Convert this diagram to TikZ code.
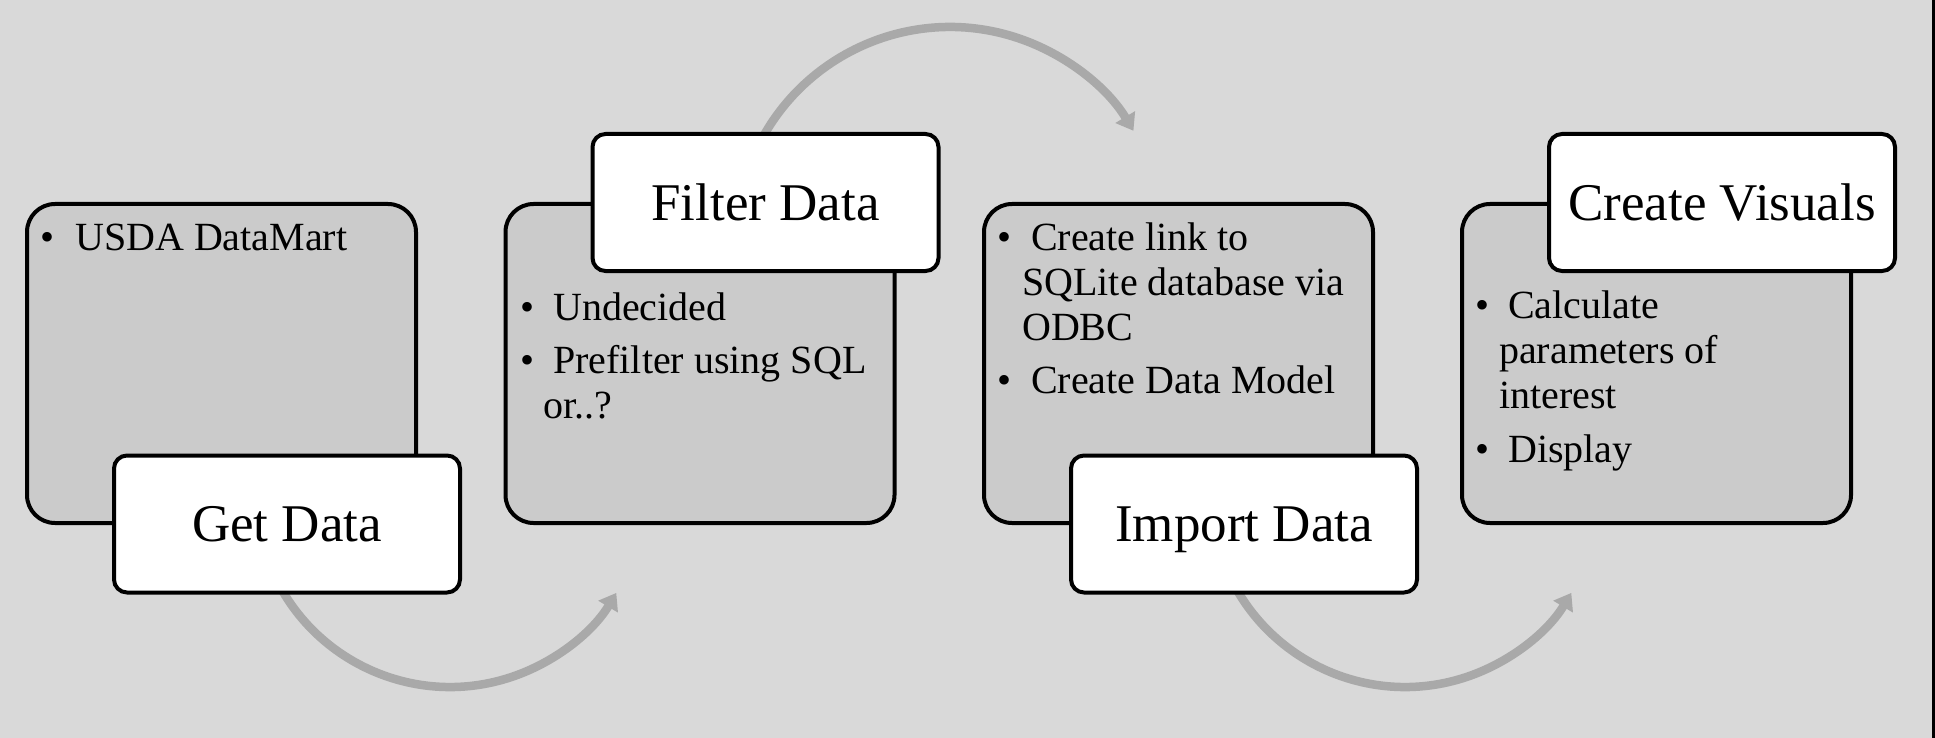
\documentclass[tikz,border=0pt]{standalone}
\usepackage{fontspec}
\setmainfont{Liberation Serif}
\usetikzlibrary{arrows.meta,calc}

\definecolor{pagebg}{HTML}{D9D9D9}
\definecolor{panelfill}{HTML}{CBCBCB}
\definecolor{flowgray}{HTML}{A9A9A9}

\tikzset{
  panel/.style={draw=black, line width=4pt, fill=panelfill, rounded corners=28pt,
    minimum width=389pt, minimum height=319pt, inner sep=0pt},
  stagebox/.style={draw=black, line width=4pt, fill=white, rounded corners=13pt,
    minimum width=346pt, minimum height=137pt, inner sep=0pt,
    text height=35pt, text depth=0pt, font=\fontsize{53}{60}\selectfont},
  itemline/.style={anchor=base west, inner sep=0pt, font=\fontsize{40}{45}\selectfont},
  bul/.style={anchor=base, inner sep=0pt, font=\fontsize{40}{45}\selectfont},
  flow/.style={draw=flowgray, line width=8.5pt,
    -{Triangle[length=16pt,width=22pt]}},
}

\begin{document}
\begin{tikzpicture}[x=1pt,y=1pt]
  % page
  \useasboundingbox (0,0) rectangle (1935,-738);
  \fill[pagebg] (0,0) rectangle (1935,-738);
  \fill[black] (1932,0) rectangle (1935,-738);

  % centres of the curved flow arrows
  \coordinate (c1) at (450,-493);
  \coordinate (c2) at (950,-241);
  \coordinate (c3) at (1405,-493);
  \coordinate (s1) at ($(c1)+(200:194)$);
  \coordinate (s2) at ($(c2)+(160:214)$);
  \coordinate (s3) at ($(c3)+(200:194)$);

  % flow arrows, drawn beneath the boxes
  \draw[flow] (s1) arc[start angle=200, end angle=329, radius=194pt];
  \draw[flow] (s2) arc[start angle=160, end angle=31, radius=214pt];
  \draw[flow] (s3) arc[start angle=200, end angle=329, radius=194pt];

  % content panels
  \node[panel] (p1) at (221.5,-363.5) {};
  \node[panel] (p2) at (700,-363.5) {};
  \node[panel] (p3) at (1178.5,-363.5) {};
  \node[panel] (p4) at (1656.5,-363.5) {};

  % stage titles
  \node[stagebox] (getdata)    at (287,-524)    {Get Data};
  \node[stagebox] (filterdata) at (765.5,-202.5)  {Filter Data};
  \node[stagebox] (importdata) at (1244,-524)   {Import Data};
  \node[stagebox] (visuals)    at (1722,-202.5) {Create Visuals};

  % panel 1
  \node[bul] (b11) at (48,-250) {•};
  \node[itemline] (t11) at (75,-250) {USDA DataMart};

  % panel 2
  \node[bul] (b21) at (527,-320) {•};
  \node[itemline] (t21) at (553,-320) {Undecided};
  \node[bul] (b22) at (527,-373) {•};
  \node[itemline] (t22) at (553,-373) {Prefilter using SQL};
  \node[itemline] (t23) at (543,-418) {or..?};

  % panel 3
  \node[bul] (b31) at (1004,-250) {•};
  \node[itemline] (t31) at (1031,-250) {Create link to};
  \node[itemline] (t32) at (1022,-295) {SQLite database via};
  \node[itemline] (t33) at (1022,-340) {ODBC};
  \node[bul] (b32) at (1004,-393) {•};
  \node[itemline] (t34) at (1031,-393) {Create Data Model};

  % panel 4
  \node[bul] (b41) at (1482,-318) {•};
  \node[itemline] (t41) at (1508,-318) {Calculate};
  \node[itemline] (t42) at (1499,-363) {parameters of};
  \node[itemline] (t43) at (1499,-408) {interest};
  \node[bul] (b42) at (1482,-462) {•};
  \node[itemline] (t44) at (1508,-462) {Display};
\end{tikzpicture}
\end{document}
